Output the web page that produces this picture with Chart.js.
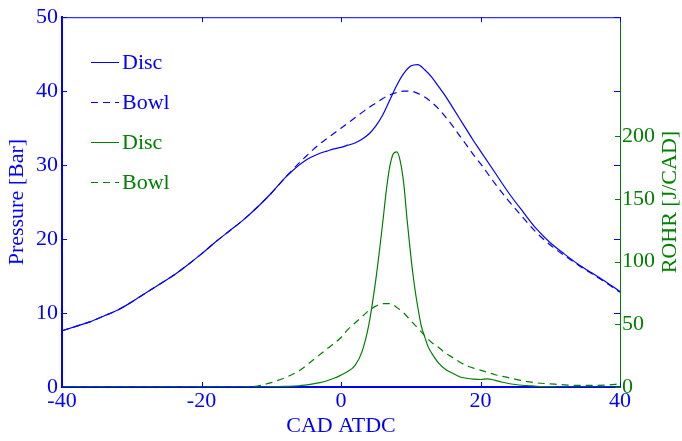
<!DOCTYPE html>
<html>
<head>
<meta charset="utf-8">
<script src="https://cdn.jsdelivr.net/npm/chart.js@4/dist/chart.umd.min.js"></script>
<style>
  html, body { margin: 0; padding: 0; background: #fff; }
  #wrap { width: 682px; height: 441px; }
</style>
</head>
<body>
<div id="wrap"><canvas id="pressureChart" width="682" height="441"></canvas></div>
<script>
// crank angle grids (deg ATDC)
const cadP = [-40, -38, -36, -34, -32, -30, -28, -26, -24, -22, -20, -18, -16, -14, -12, -10, -8, -7, -6, -5, -4, -3, -2, -1,
  0, 1, 2, 3, 4, 5, 6, 7, 8, 9, 10, 11, 12, 13, 14, 15, 16, 17, 18, 19, 20, 22, 24, 26, 28, 30, 32, 34, 36, 38, 40];

// cylinder pressure [bar]
const pDisc = [7.6, 8.2, 8.8, 9.6, 10.4, 11.5, 12.7, 13.9, 15.1, 16.5, 18.0, 19.6, 21.1, 22.6, 24.3, 26.2, 28.3, 29.2, 30.0, 30.7, 31.2, 31.6, 31.9, 32.2,
  32.4, 32.7, 33.0, 33.5, 34.2, 35.3, 36.8, 38.8, 40.8, 42.4, 43.4, 43.6, 42.9, 41.9, 40.6, 39.3, 37.8, 36.3, 34.8, 33.3, 31.9, 29.1, 26.3, 23.8, 21.4, 19.5, 18.0, 16.6, 15.4, 14.2, 12.9];
const pBowl = [7.6, 8.2, 8.8, 9.6, 10.4, 11.5, 12.7, 13.9, 15.1, 16.5, 18.0, 19.6, 21.1, 22.6, 24.3, 26.2, 28.3, 29.3, 30.3, 31.2, 32.1, 32.9, 33.6, 34.3,
  35.0, 35.7, 36.4, 37.1, 37.8, 38.4, 39.0, 39.5, 39.8, 40.0, 40.0, 39.7, 39.2, 38.5, 37.6, 36.5, 35.3, 34.0, 32.7, 31.4, 30.2, 27.6, 25.2, 23.0, 20.9, 19.2, 17.8, 16.5, 15.3, 14.1, 12.8];

// rate of heat release [J/CAD]
const cadRDisc = [-40, -20, -12, -8, -6, -4, -3, -2, -1, 0, 1, 2, 3, 4, 5, 6, 6.5, 7, 7.5, 8, 8.5, 9, 9.5, 10, 10.5, 11, 11.5, 12, 12.5, 13,
  14, 15, 16, 17, 18, 19, 20, 21, 22, 23, 24, 25, 26, 27, 28, 30, 32, 36, 40];
const rohrDisc = [0, 0, 0, 0.5, 1, 2.5, 3.5, 5, 7, 9.5, 12.5, 17, 28, 50, 86, 132, 157, 176, 186, 187.5, 180, 162, 132, 105, 82, 64, 49, 40, 32, 27,
  19, 14, 11, 8.2, 7, 6.3, 6, 6.5, 5.5, 4, 2.8, 2, 1.4, 1, 0.6, 0.3, 0, 0, 0];
const cadRBowl = [-40, -20, -14, -12, -10, -8, -6, -4, -2, 0, 1, 2, 3, 4, 5, 6, 7, 8, 9, 10, 11, 12, 13, 14, 15, 16, 17, 18, 19, 20,
  22, 24, 26, 28, 30, 32, 34, 36, 38, 40];
const rohrBowl = [0, 0, 0, 0.8, 3.5, 7.5, 13, 21.5, 30.5, 39.5, 46, 51, 56, 61, 64.5, 66.5, 66.5, 63.5, 59, 53, 47, 41, 35.5, 31.5, 27, 23.5, 20, 17, 15, 13.5,
  10, 7.5, 5, 3.3, 2.5, 1.7, 1.3, 1.3, 1.5, 2.5];

const xTicks = [-40, -20, 0, 20, 40];
const pTicks = [0, 10, 20, 30, 40, 50];
const rTicks = [0, 50, 100, 150, 200];

const BLUE = "#0000ff";
const GREEN = "#008000";
const FONT = "'Liberation Serif', 'Times New Roman', serif";

const pts = (xs, ys) => xs.map((x, i) => ({ x: x, y: ys[i] }));

// MATLAB style: ticks point into the box, box drawn on all sides
const boxTicks = {
  id: "boxTicks",
  afterDatasetsDraw(chart) {
    const { ctx, chartArea: a, scales } = chart;
    const len = 5;
    ctx.save();
    ctx.lineWidth = 1;
    ctx.strokeStyle = BLUE;
    ctx.beginPath();
    ctx.moveTo(a.left, a.top + 0.5);
    ctx.lineTo(a.right, a.top + 0.5);
    xTicks.forEach(v => {
      const px = Math.round(scales.x.getPixelForValue(v)) + 0.5;
      ctx.moveTo(px, a.bottom);
      ctx.lineTo(px, a.bottom - len);
      ctx.moveTo(px, a.top);
      ctx.lineTo(px, a.top + len);
    });
    pTicks.forEach(v => {
      const py = Math.round(scales.y.getPixelForValue(v)) + 0.5;
      ctx.moveTo(a.left, py);
      ctx.lineTo(a.left + len, py);
      ctx.moveTo(a.right, py);
      ctx.lineTo(a.right - len - 1, py);
    });
    ctx.stroke();
    ctx.strokeStyle = GREEN;
    ctx.beginPath();
    rTicks.forEach(v => {
      const py = Math.round(scales.y1.getPixelForValue(v)) + 0.5;
      ctx.moveTo(a.right, py);
      ctx.lineTo(a.right - len, py);
    });
    ctx.stroke();

    // right axis title, reading bottom to top
    ctx.fillStyle = GREEN;
    ctx.font = "22px " + FONT;
    ctx.textAlign = "center";
    ctx.textBaseline = "middle";
    ctx.translate(670, (a.top + a.bottom) / 2);
    ctx.rotate(-Math.PI / 2);
    ctx.fillText("ROHR [J/CAD]", 0, 0);
    ctx.restore();
  }
};

// legend inside the axes, top left
const insideLegend = {
  id: "insideLegend",
  afterDraw(chart) {
    const { ctx, chartArea: a } = chart;
    ctx.save();
    ctx.font = "22px " + FONT;
    ctx.textBaseline = "middle";
    chart.data.datasets.forEach((ds, i) => {
      const y = Math.round(a.top + 45 + i * 40) + 0.5;
      ctx.strokeStyle = ds.borderColor;
      ctx.lineWidth = 1;
      ctx.setLineDash(ds.borderDash || []);
      ctx.beginPath();
      ctx.moveTo(a.left + 29, y);
      ctx.lineTo(a.left + 57, y);
      ctx.stroke();
      ctx.setLineDash([]);
      ctx.fillStyle = ds.borderColor;
      ctx.fillText(ds.label, a.left + 60, y + 1);
    });
    ctx.restore();
  }
};

const lineSet = (label, data, color, dash, axis) => ({
  label: label,
  data: data,
  yAxisID: axis,
  borderColor: color,
  borderWidth: 1.2,
  borderDash: dash,
  pointRadius: 0,
  fill: false,
  cubicInterpolationMode: "monotone"
});

new Chart(document.getElementById("pressureChart"), {
  type: "line",
  data: {
    datasets: [
      lineSet("Disc", pts(cadP, pDisc), BLUE, [], "y"),
      lineSet("Bowl", pts(cadP, pBowl), BLUE, [7, 5], "y"),
      lineSet("Disc", pts(cadRDisc, rohrDisc), GREEN, [], "y1"),
      lineSet("Bowl", pts(cadRBowl, rohrBowl), GREEN, [7, 5], "y1")
    ]
  },
  options: {
    responsive: false,
    animation: false,
    layout: { padding: { top: 15, left: 0, right: 0, bottom: 0 } },
    plugins: {
      legend: { display: false },
      tooltip: { enabled: false }
    },
    scales: {
      x: {
        type: "linear",
        min: -40,
        max: 40,
        afterBuildTicks: s => { s.ticks = xTicks.map(v => ({ value: v })); },
        afterFit: s => { s.height = 54; },
        grid: { display: false, drawTicks: false },
        border: { display: true, color: BLUE, width: 2 },
        ticks: { color: BLUE, padding: 1, font: { family: FONT, size: 22 }, maxRotation: 0 },
        title: { display: true, text: "CAD ATDC", color: BLUE, font: { family: FONT, size: 22 }, padding: { top: 0, bottom: 2 } }
      },
      y: {
        position: "left",
        min: 0,
        max: 50,
        afterBuildTicks: s => { s.ticks = pTicks.map(v => ({ value: v })); },
        afterFit: s => { s.width = 62; },
        grid: { display: false, drawTicks: false },
        border: { display: true, color: BLUE, width: 2 },
        ticks: { color: BLUE, padding: 4, font: { family: FONT, size: 22 } },
        title: { display: true, text: "Pressure [Bar]", color: BLUE, font: { family: FONT, size: 22 }, padding: { top: 4, bottom: 0 } }
      },
      y1: {
        position: "right",
        min: 0,
        max: 295,
        afterBuildTicks: s => { s.ticks = rTicks.map(v => ({ value: v })); },
        afterFit: s => { s.width = 62; },
        grid: { display: false, drawTicks: false },
        border: { display: true, color: GREEN, width: 1 },
        ticks: { color: GREEN, padding: 2, font: { family: FONT, size: 22 } }
      }
    }
  },
  plugins: [boxTicks, insideLegend]
});
</script>
</body>
</html>
